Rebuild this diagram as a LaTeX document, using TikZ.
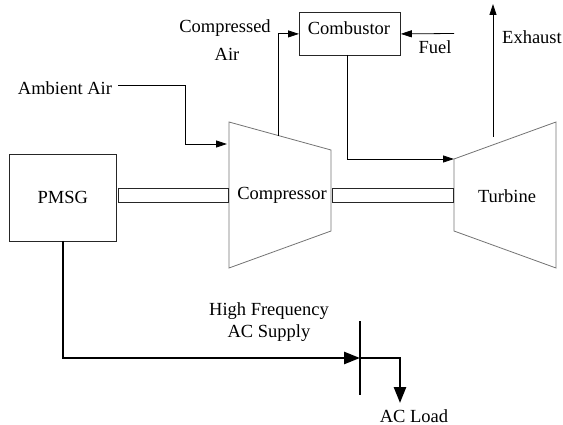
\documentclass[tikz,border=0pt]{standalone}
\usepackage{fontspec}
\setmainfont{Liberation Serif}
\usetikzlibrary{arrows.meta}
\begin{document}
\begin{tikzpicture}[x=1pt,y=-1pt,
  txt/.style={font=\fontsize{18.5}{22}\selectfont, inner sep=0pt},
  boxed/.style={draw=black!85, line width=0.8pt, txt, minimum width=107pt, minimum height=87pt},
  trap/.style={draw=black!55, line width=0.8pt},
  shaft/.style={draw=black!85, line width=0.8pt},
  flow/.style={draw=black, line width=0.8pt, -{Triangle[length=11pt,width=7pt]}},
  power/.style={draw=black, line width=2.6pt},
  parr/.style={-{Triangle[length=16pt,width=12pt]}}]
\useasboundingbox (0,0) rectangle (563,425);
% PMSG
\node[boxed, anchor=north west, minimum width=107pt, minimum height=87pt] (pmsg) at (9,154) {PMSG};
% Combustor
\node[boxed, anchor=north west, minimum width=101pt, minimum height=43pt] (comb) at (299,12) {};
\node[txt] (combt) at (349,28) {Combustor};
% Compressor trapezoid
\coordinate (c1) at (229,122); \coordinate (c2) at (331,150);
\coordinate (c3) at (331,231); \coordinate (c4) at (229,268);
\draw[trap] (c1) -- (c2) -- (c3) -- (c4) -- cycle;
\node[txt] (compt) at (282,195) {Compressor};
% Turbine trapezoid
\coordinate (t1) at (454,159); \coordinate (t2) at (556,122);
\coordinate (t3) at (556,268); \coordinate (t4) at (454,231);
\draw[trap] (t1) -- (t2) -- (t3) -- (t4) -- cycle;
\node[txt] (turbt) at (507,196) {Turbine};
% Shafts
\node[shaft, anchor=north west, minimum width=110pt, minimum height=14pt, inner sep=0pt] (shaft1) at (118,188) {};
\node[shaft, anchor=north west, minimum width=121pt, minimum height=14pt, inner sep=0pt] (shaft2) at (332,188) {};
% Ambient air
\node[txt] (amb) at (65,88) {Ambient Air};
\coordinate (a0) at (118,85);
\coordinate (a1) at (185,85);
\coordinate (a2) at (227,144);
\draw[flow] (a0) -- (a1) |- (a2);
% Compressed air
\node[txt] (ca1) at (225,28) {Compressed};
\node[txt] (ca2) at (227,54) {Air};
\coordinate (cs) at (278,136);
\draw[flow] (cs) |- (comb.west);
% Fuel
\coordinate (f0) at (454,33.5);
\draw[flow] (f0) -- (comb.east);
\node[txt] (fuel) at (435,47) {Fuel};
% Combustor to turbine
\coordinate (cb) at (347,55);
\draw[flow] (cb) |- (t1);
% Exhaust
\coordinate (e0) at (493,137);
\coordinate (e1) at (493,4);
\draw[flow] (e0) -- (e1);
\node[txt] (exh) at (532,37) {Exhaust};
% Electrical
\coordinate (busT) at (360,321);
\coordinate (busB) at (360,395);
\coordinate (busM) at (360,358);
\coordinate (p1) at (63,241);
\coordinate (l1) at (400,358);
\coordinate (l2) at (400,403);
\draw[power] (busT) -- (busB);
\draw[power, parr] (p1) |- (busM);
\draw[power, parr] (busM) -- (l1) -- (l2);
\node[txt] (hf1) at (269,311) {High Frequency};
\node[txt] (hf2) at (269,333) {AC Supply};
\node[txt] (load) at (414,416) {AC Load};
\end{tikzpicture}
\end{document}
